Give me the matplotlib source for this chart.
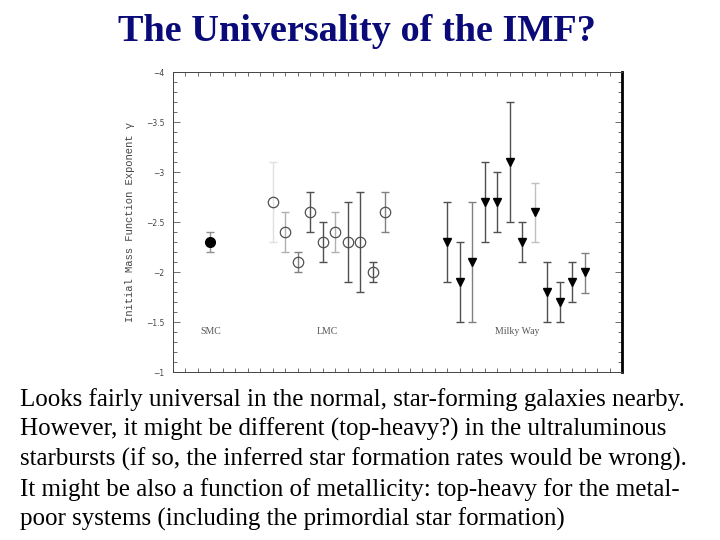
import matplotlib
matplotlib.use("Agg")
import matplotlib.pyplot as plt
from matplotlib.ticker import MultipleLocator, FixedLocator

# ---- data ----
smc_x = [3]
smc_y = [-2.3]
smc_lo = [-2.4]
smc_hi = [-2.2]

lmc_x = [8, 9, 10, 11, 12, 13, 14, 15, 16, 17]
lmc_y = [-2.7, -2.4, -2.1, -2.6, -2.3, -2.4, -2.3, -2.3, -2.0, -2.6]
lmc_top = [-3.1, -2.6, -2.2, -2.8, -2.5, -2.6, -2.7, -2.8, -2.1, -2.8]
lmc_bot = [-2.3, -2.2, -2.0, -2.4, -2.1, -2.2, -1.9, -1.8, -1.9, -2.4]
lmc_shade = ["#e0e0e0", "#b0b0b0", "#808080", "#505050", "#505050",
             "#b0b0b0", "#505050", "#505050", "#505050", "#808080"]

mw_x = [22, 23, 24, 25, 26, 27, 28, 29, 30, 31, 32, 33]
mw_y = [-2.3, -1.9, -2.1, -2.7, -2.7, -3.1, -2.3, -2.6, -1.8, -1.7, -1.9, -2.0]
mw_top = [-2.7, -2.3, -2.7, -3.1, -3.0, -3.7, -2.5, -2.89, -2.1, -1.9, -2.1, -2.19]
mw_bot = [-1.9, -1.5, -1.5, -2.3, -2.4, -2.5, -2.1, -2.3, -1.5, -1.5, -1.7, -1.79]
mw_shade = ["#505050", "#505050", "#808080", "#505050", "#505050", "#505050",
            "#505050", "#c0c0c0", "#505050", "#505050", "#505050", "#808080"]

group_labels = ["SMC", "LMC", "Milky Way"]
group_label_x = [3, 12.4, 27.6]
group_label_y = -1.4

yticks = [-4, -3.5, -3, -2.5, -2, -1.5, -1]
ytick_labels = ["\u22124", "\u22123.5", "\u22123", "\u22122.5", "\u22122", "\u22121.5", "\u22121"]

title = "The Universality of the IMF?"
body_lines = [
    "Looks fairly universal in the normal, star-forming galaxies nearby.",
    "However, it might be different (top-heavy?) in the ultraluminous",
    "starbursts (if so, the inferred star formation rates would be wrong).",
    "It might be also a function of metallicity: top-heavy for the metal-",
    "poor systems (including the primordial star formation)",
]

# ---- figure ----
fig = plt.figure(figsize=(7.2, 5.4), dpi=100)
fig.patch.set_facecolor("white")

ax = fig.add_axes([173 / 720, 1 - 372 / 540, (622 - 173) / 720, (372 - 72) / 540])
ax.set_xlim(0, 36)
ax.set_ylim(-1, -4)


def draw_err(xs, ys, tops, bots, shades):
    for x, y, t, b, c in zip(xs, ys, tops, bots, shades):
        ax.errorbar([x], [y], yerr=[[abs(y - t)], [abs(b - y)]],
                    fmt="none", ecolor=c, elinewidth=1.0, capsize=3, capthick=1.0)


# SMC
ax.errorbar(smc_x, smc_y,
            yerr=[[abs(y - t) for y, t in zip(smc_y, smc_lo)],
                  [abs(b - y) for y, b in zip(smc_y, smc_hi)]],
            fmt="none", ecolor="#909090", elinewidth=1.0, capsize=3)
ax.plot(smc_x, smc_y, "o", color="black", markersize=7, zorder=3)

# LMC
draw_err(lmc_x, lmc_y, lmc_top, lmc_bot, lmc_shade)
ax.plot(lmc_x, lmc_y, "o", markerfacecolor="none", markeredgecolor="#505050",
        markeredgewidth=0.9, markersize=7.5, linestyle="none", zorder=3)

# Milky Way
draw_err(mw_x, mw_y, mw_top, mw_bot, mw_shade)
ax.plot(mw_x, mw_y, "v", color="black", markersize=6, linestyle="none", zorder=3)

for lab, lx in zip(group_labels, group_label_x):
    ax.text(lx, group_label_y, lab, ha="center", va="center", fontsize=7,
            family="Liberation Serif", color="#555555")

ax.yaxis.set_major_locator(FixedLocator(yticks))
ax.set_yticklabels(ytick_labels, fontsize=5.5, color="#444444", family="DejaVu Sans")
ax.yaxis.set_minor_locator(MultipleLocator(0.1))
ax.xaxis.set_major_locator(MultipleLocator(1))
ax.set_xticklabels([])
ax.tick_params(axis="both", which="both", direction="in", top=True, right=True,
               color="#555555", width=0.6)
ax.tick_params(axis="y", which="major", length=5, pad=6)
ax.tick_params(axis="y", which="minor", length=3)
ax.tick_params(axis="x", which="major", length=3)
for s in ["left", "top", "bottom"]:
    ax.spines[s].set_color("#444444")
    ax.spines[s].set_linewidth(0.7)
ax.spines["right"].set_color("black")
ax.spines["right"].set_linewidth(2.0)

ax.set_ylabel("Initial Mass Function Exponent \u03b3", fontsize=7.6,
              family=["Liberation Mono", "DejaVu Sans Mono"], color="#444444", labelpad=8)

fig.text(357 / 720, 1 - 41 / 540, title, ha="center", va="baseline",
         fontsize=27.5, fontweight="bold", family="Liberation Serif", color="#0a0a78")

baselines = [406, 436, 466, 496, 526]
for line, by in zip(body_lines, baselines):
    fig.text(20 / 720, 1 - by / 540, line, ha="left", va="baseline",
             fontsize=18.0, family="Liberation Serif", color="black")

fig.savefig("out.png", dpi=100)
